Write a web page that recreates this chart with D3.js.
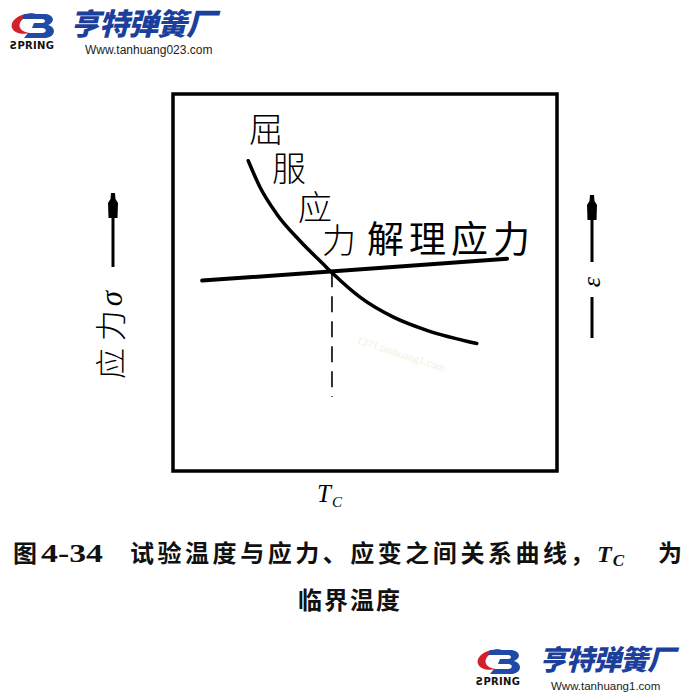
<!DOCTYPE html>
<html><head><meta charset="utf-8">
<script src="https://cdn.jsdelivr.net/npm/d3@7"></script>
<style>
html,body{margin:0;padding:0;background:#fff;}
svg{display:block;}
</style></head>
<body>
<script>
// ---- data (temperature / stress in relative units 0..100) ----
const yieldT      = [19.6, 22.7, 27.0, 33.1, 39.1, 41.7, 48.7, 57.4, 66.1, 79.1];
const yieldStress = [82.3, 75.2, 68.2, 61.0, 54.9, 52.3, 46.1, 40.8, 37.3, 33.8];
const cleaveT      = [7.6, 87.0];
const cleaveStress = [50.5, 56.3];
const Tc = 41.4;
const TcStress = [53.0, 19.6];
const yieldLabel = ["屈","服","应","力"];
const cleaveLabel = "解理应力";
const figNo = "4-34";
const captionBody = "试验温度与应力、应变之间关系曲线";
const captionLine2 = "临界温度";

const W = 700, H = 700;
const svg = d3.select("body").append("svg").attr("width", W).attr("height", H);

const frame = {l:173, t:94, r:557, b:471};
const x = d3.scaleLinear().domain([0,100]).range([frame.l, frame.r]);
const y = d3.scaleLinear().domain([0,100]).range([frame.b, frame.t]);

// frame
svg.append("rect").attr("x", frame.l).attr("y", frame.t)
  .attr("width", frame.r-frame.l).attr("height", frame.b-frame.t)
  .attr("fill","none").attr("stroke","#000").attr("stroke-width",3.5);

// cleavage stress line
const cleave = cleaveT.map((t,i)=>[t, cleaveStress[i]]);
svg.append("path").datum(cleave)
  .attr("d", d3.line().x(d=>x(d[0])).y(d=>y(d[1])))
  .attr("stroke","#000").attr("stroke-width",4).attr("fill","none").attr("stroke-linecap","round");

// yield stress curve
const yieldPts = yieldT.map((t,i)=>[t, yieldStress[i]]);
svg.append("path").datum(yieldPts)
  .attr("d", d3.line().x(d=>x(d[0])).y(d=>y(d[1])).curve(d3.curveMonotoneX))
  .attr("stroke","#000").attr("stroke-width",3.5).attr("fill","none").attr("stroke-linecap","round");

// Tc dashed line
svg.append("line")
  .attr("x1", x(Tc)).attr("x2", x(Tc)).attr("y1", y(TcStress[0])).attr("y2", y(TcStress[1]))
  .attr("stroke","#000").attr("stroke-width",1.6).attr("stroke-dasharray","16,9");

// curve labels
const cjk = "'Noto Sans CJK SC','Noto Sans CJK JP',sans-serif";
const yPos = [[266,142],[289,181],[315,220],[339,253]];
yieldLabel.forEach((c,i)=>{
  svg.append("text").attr("x", yPos[i][0]).attr("y", yPos[i][1])
    .attr("text-anchor","middle").attr("font-family",cjk).attr("font-size",34)
    .attr("font-weight",300).text(c);
});
svg.append("text").attr("x", 367).attr("y", 253)
  .attr("font-family",cjk).attr("font-size",37).attr("font-weight",400)
  .attr("letter-spacing",5).text(cleaveLabel);

// Tc label under axis
const tcText = svg.append("text").attr("x", x(Tc)-15).attr("y", 502)
  .attr("font-family","'Liberation Serif','DejaVu Serif',serif").attr("font-style","italic")
  .attr("font-size",25);
tcText.append("tspan").text("T");
tcText.append("tspan").attr("font-size",15).attr("dy",5).attr("dx",1).text("C");

// arrows
function arrow(cx, yTop, yBot){
  svg.append("line").attr("x1",cx).attr("x2",cx).attr("y1",yTop+10).attr("y2",yBot)
    .attr("stroke","#000").attr("stroke-width",3);
  svg.append("path")
    .attr("d", `M${cx-2},${yTop} L${cx+2},${yTop} L${cx+2.5},${yTop+6} L${cx+5},${yTop+10} L${cx+4.5},${yTop+25} L${cx-4.5},${yTop+25} L${cx-5},${yTop+10} L${cx-2.5},${yTop+6} Z`)
    .attr("fill","#000");
}
arrow(113, 193, 267);
arrow(592, 195, 262);
svg.append("line").attr("x1",592).attr("x2",592).attr("y1",297).attr("y2",338)
  .attr("stroke","#000").attr("stroke-width",3);

// left axis label
const lab = svg.append("text").attr("transform","translate(122,335) rotate(-90)")
  .attr("text-anchor","middle").attr("font-family",cjk).attr("font-size",31).attr("font-weight",300);
lab.append("tspan").text("应 力");
lab.append("tspan").attr("font-family","'Liberation Serif',serif").attr("font-style","italic").attr("dx",4).text("σ");

// right epsilon
svg.append("text").attr("transform","translate(600,282) rotate(-90)")
  .attr("text-anchor","middle").attr("font-family","'Liberation Serif',serif").attr("font-style","italic")
  .attr("font-size",26).text("ε");

// faint watermark
svg.append("text").attr("transform","translate(356,343) rotate(18)")
  .attr("font-family","'Liberation Serif',serif").attr("font-size",11).attr("fill","#f3efdc")
  .text("1371.tanhuang1.com");

// caption
const capY = 562;
const capStyle = s => s.attr("font-family",cjk).attr("font-size",24).attr("font-weight",700).attr("fill","#111");
capStyle(svg.append("text").attr("x",13).attr("y",capY)).text("图");
capStyle(svg.append("text").attr("x",41).attr("y",capY)).attr("font-family","'Liberation Serif',serif")
  .attr("font-size",25).attr("textLength",62).attr("lengthAdjust","spacingAndGlyphs").text(figNo);
capStyle(svg.append("text").attr("x",130).attr("y",capY)).attr("textLength",437).attr("lengthAdjust","spacing").text(captionBody);
capStyle(svg.append("text").attr("x",570).attr("y",capY)).text("，");
const tc2 = capStyle(svg.append("text").attr("x",597).attr("y",capY)).attr("font-family","'Liberation Serif',serif").attr("font-style","italic");
tc2.append("tspan").text("T");
tc2.append("tspan").attr("font-size",17).attr("dy",4).attr("dx",1).text("C");
capStyle(svg.append("text").attr("x",658).attr("y",capY)).text("为");
capStyle(svg.append("text").attr("x", 350).attr("y", 609).attr("text-anchor","middle"))
  .attr("letter-spacing",2).text(captionLine2);

// logos
function logo(ox, oy, s, site, tx, tsize, ux, usize){
  const g = svg.append("g").attr("transform",`translate(${ox},${oy}) scale(${s})`);
  g.append("path").attr("d","M22,2 C8,3 0,10 2,17 C4,22 12,24 20,22 C12,21 8,17 10,12 C12,7 18,4 26,3 Z").attr("fill","#d4202a");
  g.append("path").attr("d","M14,3 L34,3 C44,3 46,11 38,14 C47,16 46,27 34,27 L14,27 L18,22 L32,22 C37,22 37,17 32,17 L22,17 L24,12 L32,12 C36,12 36,8 32,8 L12,8 Z").attr("fill","#1f4aa8");
  g.append("text").attr("x",0).attr("y",38).attr("font-family","'DejaVu Sans',sans-serif").attr("font-weight",700)
    .attr("font-size",10).attr("textLength",44).attr("fill","#111").text("ƧPRING");
  svg.append("text").attr("x",tx[0]).attr("y",tx[1]).attr("font-family",cjk).attr("font-weight",900)
    .attr("font-style","italic").attr("font-size",tsize).attr("fill","#1d3f9c").attr("letter-spacing",-1).text("亨特弹簧厂");
  svg.append("text").attr("x",ux[0]).attr("y",ux[1]).attr("font-family","'Liberation Sans',Arial,sans-serif")
    .attr("font-size",usize).attr("fill","#222").text(site);
}
logo(10, 11, 1, "Www.tanhuang023.com", [70,35], 30, [85,54], 12);
logo(476, 647, 1, "Www.tanhuang1.com", [539,670], 28, [551,690], 11.5);
</script>
</body></html>
